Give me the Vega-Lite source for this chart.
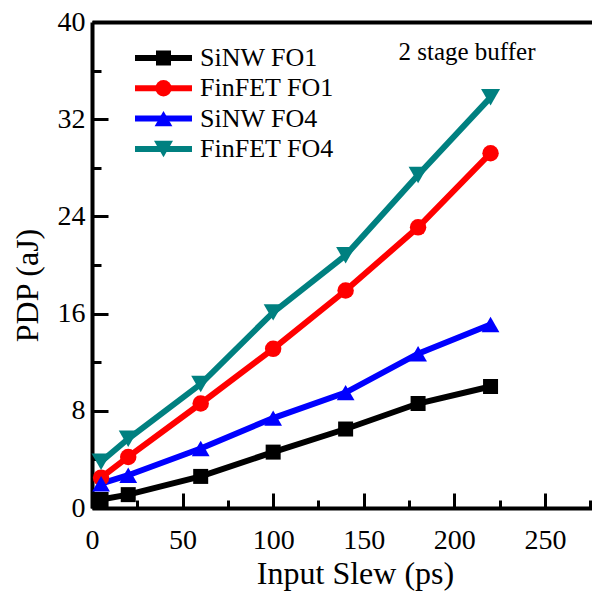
{
  "$schema": "https://vega.github.io/schema/vega-lite/v6.json",
  "width": 500,
  "height": 486,
  "autosize": {"type": "none"},
  "padding": {"left": 92, "top": 22, "right": 0, "bottom": 84},
  "background": "white",
  "config": {
    "view": {"stroke": null},
    "font": "Liberation Serif",
    "axis": {"grid": false, "domainColor": "black", "tickColor": "black", "labelColor": "black", "titleColor": "black", "labelFont": "Liberation Serif", "titleFont": "Liberation Serif", "titleFontWeight": "normal"},
    "legend": {"labelFont": "Liberation Serif"}
  },
  "data": {
    "values": [
      {"x": 5, "y": 0.7, "s": "SiNW FO1"},
      {"x": 20, "y": 1.1, "s": "SiNW FO1"},
      {"x": 60, "y": 2.6, "s": "SiNW FO1"},
      {"x": 100, "y": 4.6, "s": "SiNW FO1"},
      {"x": 140, "y": 6.5, "s": "SiNW FO1"},
      {"x": 180, "y": 8.6, "s": "SiNW FO1"},
      {"x": 220, "y": 10.0, "s": "SiNW FO1"},
      {"x": 5, "y": 2.5, "s": "FinFET FO1"},
      {"x": 20, "y": 4.2, "s": "FinFET FO1"},
      {"x": 60, "y": 8.6, "s": "FinFET FO1"},
      {"x": 100, "y": 13.1, "s": "FinFET FO1"},
      {"x": 140, "y": 17.9, "s": "FinFET FO1"},
      {"x": 180, "y": 23.1, "s": "FinFET FO1"},
      {"x": 220, "y": 29.2, "s": "FinFET FO1"},
      {"x": 5, "y": 2.0, "s": "SiNW FO4"},
      {"x": 20, "y": 2.7, "s": "SiNW FO4"},
      {"x": 60, "y": 4.9, "s": "SiNW FO4"},
      {"x": 100, "y": 7.4, "s": "SiNW FO4"},
      {"x": 140, "y": 9.5, "s": "SiNW FO4"},
      {"x": 180, "y": 12.7, "s": "SiNW FO4"},
      {"x": 220, "y": 15.1, "s": "SiNW FO4"},
      {"x": 5, "y": 3.8, "s": "FinFET FO4"},
      {"x": 20, "y": 5.7, "s": "FinFET FO4"},
      {"x": 60, "y": 10.2, "s": "FinFET FO4"},
      {"x": 100, "y": 16.1, "s": "FinFET FO4"},
      {"x": 140, "y": 20.8, "s": "FinFET FO4"},
      {"x": 180, "y": 27.4, "s": "FinFET FO4"},
      {"x": 220, "y": 33.8, "s": "FinFET FO4"}
    ]
  },
  "resolve": {"legend": {"color": "independent", "shape": "independent", "size": "independent"}, "axis": {"x": "independent", "y": "independent"}},
  "layer": [
    {
      "mark": {"type": "line", "strokeWidth": 6},
      "encoding": {
        "x": {"field": "x", "type": "quantitative", "scale": {"domain": [0, 276], "nice": false, "zero": false},
          "axis": {"orient": "bottom", "title": "Input Slew (ps)", "values": [0, 25, 50, 75, 100, 125, 150, 175, 200, 225, 250, 275],
            "labelExpr": "datum.value % 50 === 0 ? datum.label : ''", "labelFlush": false, "labelOverlap": false,
            "labelFontSize": 28, "labelPadding": 33, "domainWidth": 4, "tickWidth": 3,
            "tickSize": {"condition": {"test": "datum.value % 50 === 0", "value": -15}, "value": -8},
            "titleFontSize": 32, "titleX": 263, "titleY": 75, "titleBaseline": "alphabetic", "titleAnchor": "middle", "titleAlign": "center"}},
        "y": {"field": "y", "type": "quantitative", "scale": {"domain": [0, 40], "nice": false, "zero": false},
          "axis": {"orient": "left", "title": "PDP (aJ)", "values": [0, 4, 8, 12, 16, 20, 24, 28, 32, 36, 40],
            "labelExpr": "datum.value % 8 === 0 ? datum.label : ''", "labelFlush": false, "labelOverlap": false,
            "labelFontSize": 28, "labelPadding": 23, "domainWidth": 4, "tickWidth": 3,
            "tickSize": {"condition": {"test": "datum.value % 8 === 0", "value": -16}, "value": -9},
            "titleFontSize": 32, "titleX": -55, "titleY": 263, "titleBaseline": "alphabetic", "titleAngle": -90, "titleAlign": "center", "titleAnchor": "middle"}},
        "color": {"field": "s", "type": "nominal",
          "scale": {"domain": ["SiNW FO1", "FinFET FO1", "SiNW FO4", "FinFET FO4"], "range": ["#000000", "#ff0000", "#0000ff", "#008080"]},
          "legend": {"orient": "none", "legendX": 40, "legendY": 21, "title": null, "symbolType": "stroke", "symbolSize": 3249, "symbolStrokeWidth": 6,
            "labelFontSize": 26, "labelColor": "black", "labelOffset": 5, "clipHeight": 30, "rowPadding": 0.3, "padding": 0, "labelLimit": 300}}
      }
    },
    {
      "mark": {"type": "point", "filled": true, "opacity": 1},
      "encoding": {
        "x": {"field": "x", "type": "quantitative",
          "axis": {"orient": "top", "title": null, "labels": false, "ticks": false, "domain": true, "domainWidth": 4}},
        "y": {"field": "y", "type": "quantitative", "axis": null},
        "color": {"field": "s", "type": "nominal",
          "legend": {"orient": "none", "legendX": 40, "legendY": 21, "title": null, "symbolOffset": 18.5, "labelExpr": "''",
            "labelFontSize": 26, "labelOffset": 5, "clipHeight": 30, "rowPadding": 0.3, "padding": 0, "symbolStrokeWidth": 0, "symbolOpacity": 1}},
        "shape": {"field": "s", "type": "nominal",
          "scale": {"domain": ["SiNW FO1", "FinFET FO1", "SiNW FO4", "FinFET FO4"], "range": ["square", "circle", "triangle-up", "triangle-down"]}},
        "size": {"field": "s", "type": "ordinal",
          "scale": {"domain": ["SiNW FO1", "FinFET FO1", "SiNW FO4", "FinFET FO4"], "range": [225, 361, 576, 576]}}
      }
    },
    {
      "data": {"values": [{"x": 207, "y": 36.9, "t": "2 stage buffer"}]},
      "mark": {"type": "text", "font": "Liberation Serif", "fontSize": 25, "align": "center", "baseline": "alphabetic", "color": "black"},
      "encoding": {
        "x": {"field": "x", "type": "quantitative", "axis": null},
        "y": {"field": "y", "type": "quantitative", "axis": null},
        "text": {"field": "t", "type": "nominal"}
      }
    }
  ]
}
